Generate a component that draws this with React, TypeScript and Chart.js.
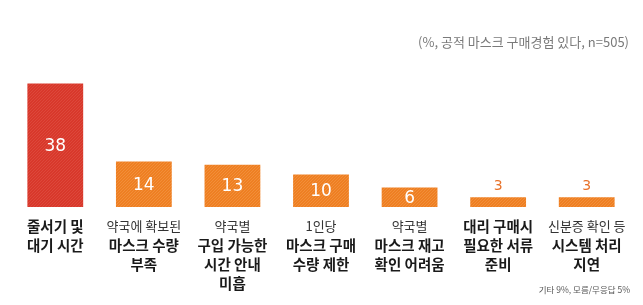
import React, { useEffect, useRef } from "react";
import { Chart, registerables } from "chart.js";

Chart.register(...registerables);

const categories: string[][] = [
  ["줄서기 및", "대기 시간"],
  ["약국에 확보된", "마스크 수량", "부족"],
  ["약국별", "구입 가능한", "시간 안내", "미흡"],
  ["1인당", "마스크 구매", "수량 제한"],
  ["약국별", "마스크 재고", "확인 어려움"],
  ["대리 구매시", "필요한 서류", "준비"],
  ["신분증 확인 등", "시스템 처리", "지연"],
];
// whether the first line of each label is in regular weight
const firstLineLight: boolean[] = [false, true, true, true, true, false, true];
const values: number[] = [38, 14, 13, 10, 6, 3, 3];
const titleText = "(%, 공적 마스크 구매경험 있다, n=505)";
const footnote = "기타 9%, 모름/무응답 5%";

const RED = "#d8382b";
const ORANGE = "#ee7f22";

function makePattern(base: string, stripe: string): CanvasPattern | string {
  const c = document.createElement("canvas");
  c.width = 3;
  c.height = 3;
  const g = c.getContext("2d");
  if (!g) return base;
  g.fillStyle = base;
  g.fillRect(0, 0, 3, 3);
  g.strokeStyle = stripe;
  g.lineWidth = 0.8;
  g.beginPath();
  g.moveTo(0, 3);
  g.lineTo(3, 0);
  g.moveTo(-1, 1);
  g.lineTo(1, -1);
  g.moveTo(2, 4);
  g.lineTo(4, 2);
  g.stroke();
  const p = g.createPattern(c, "repeat");
  return p || base;
}

const KFONT = '"Noto Sans CJK KR", "Noto Sans", sans-serif';

const labelPlugin = {
  id: "customLabels",
  afterDatasetsDraw(chart: any) {
    const ctx = chart.ctx as CanvasRenderingContext2D;
    const xs = chart.scales.x;
    const meta = chart.getDatasetMeta(0);
    ctx.save();
    // value labels
    meta.data.forEach((bar: any, i: number) => {
      const v = values[i];
      const top = bar.y;
      const bottom = bar.base;
      const h = bottom - top;
      ctx.textAlign = "center";
      ctx.textBaseline = "middle";
      if (h > 15) {
        ctx.fillStyle = "#ffffff";
        ctx.font = '17px "DejaVu Sans", sans-serif';
        ctx.fillText(String(v), bar.x, (top + bottom) / 2 + 1);
      } else {
        ctx.fillStyle = "#e8722a";
        ctx.font = '14px "DejaVu Sans", sans-serif';
        ctx.fillText(String(v), bar.x, top - 11);
      }
    });
    // category labels
    categories.forEach((lines, i) => {
      const x = xs.getPixelForValue(i);
      lines.forEach((line, j) => {
        const light = j === 0 && firstLineLight[i];
        ctx.font = light ? `13px ${KFONT}` : `bold 14.5px ${KFONT}`;
        ctx.fillStyle = light ? "#333333" : "#1a1a1a";
        ctx.textAlign = "center";
        ctx.textBaseline = "middle";
        ctx.fillText(line, x, 226 + j * 19);
      });
    });
    // title
    ctx.font = `13px ${KFONT}`;
    ctx.fillStyle = "#7a7a7a";
    ctx.textAlign = "right";
    ctx.textBaseline = "middle";
    ctx.fillText(titleText, 629, 42);
    // footnote
    ctx.font = `8.5px ${KFONT}`;
    ctx.fillStyle = "#555555";
    ctx.fillText(footnote, 630, 290);
    ctx.restore();
  },
};

export default function App() {
  const ref = useRef<HTMLCanvasElement | null>(null);
  useEffect(() => {
    if (!ref.current) return;
    const red = makePattern(RED, "#de4c40");
    const orange = makePattern(ORANGE, "#f2923f");
    const chart = new Chart(ref.current, {
      type: "bar",
      data: {
        labels: categories.map((c) => c.join(" ")),
        datasets: [
          {
            data: values,
            backgroundColor: values.map((_, i) => (i === 0 ? red : orange)) as any,
            borderWidth: 0,
            barPercentage: 0.63,
            categoryPercentage: 1,
          },
        ],
      },
      options: {
        responsive: false,
        animation: false,
        layout: { padding: { left: 11, right: 12, top: 44.5, bottom: 98 } },
        plugins: {
          legend: { display: false },
          tooltip: { enabled: false },
          title: { display: false },
        },
        scales: {
          x: { display: false, grid: { display: false } },
          y: { display: false, min: 0, max: 50, grid: { display: false } },
        },
      },
      plugins: [labelPlugin],
    });
    return () => chart.destroy();
  }, []);
  return (
    <div style={{ position: "fixed", left: 0, top: 0, width: 643, height: 305, background: "#ffffff" }}>
      <canvas ref={ref} width={643} height={305} style={{ display: "block" }} />
    </div>
  );
}
